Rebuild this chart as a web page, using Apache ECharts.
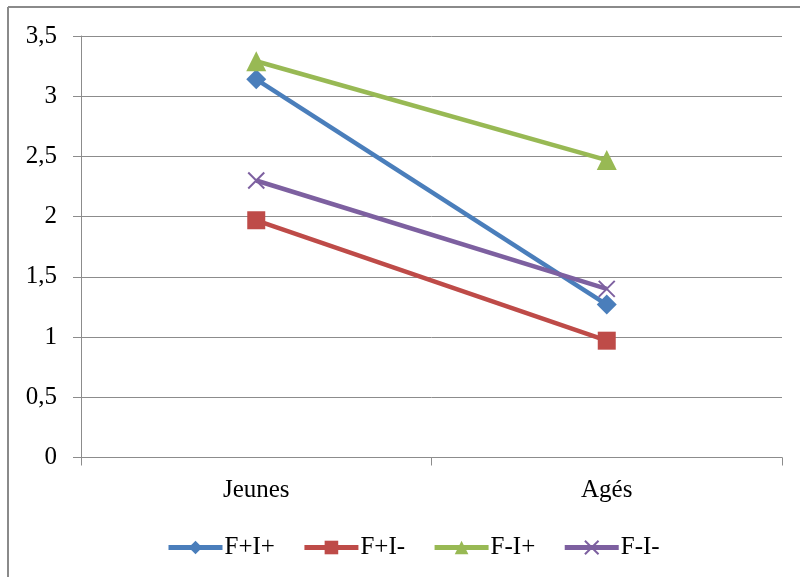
<!DOCTYPE html>
<html><head><meta charset="utf-8">
<script src="https://cdn.jsdelivr.net/npm/echarts@6/dist/echarts.min.js"></script>
<style>html,body{margin:0;padding:0;background:#fff}#c{width:800px;height:577px}</style>
</head><body><div id="c"></div>
<script>
const categories = ['Jeunes', 'Agés'];
const seriesNames = ['F+I+', 'F+I-', 'F-I+', 'F-I-'];
const valsFpIp = [3.14, 1.27];
const valsFpIm = [1.97, 0.97];
const valsFmIp = [3.29, 2.47];
const valsFmIm = [2.30, 1.40];
const yTicks = [0, 0.5, 1, 1.5, 2, 2.5, 3, 3.5];

const colors = ['#4a7ebb', '#be4b48', '#98b954', '#7d60a0'];
const symbols = ['diamond', 'rect', 'triangle', 'path://M0,0L10,10M10,0L0,10'];
const sizes = [20, 18, 20, 16];
const dataSets = [valsFpIp, valsFpIm, valsFmIp, valsFmIm];
const font = '"Liberation Serif", "Times New Roman", serif';

const chart = echarts.init(document.getElementById('c'));
chart.setOption({
  animation: false,
  backgroundColor: '#fff',
  graphic: [
    {type: 'line', shape: {x1: 8, y1: 7, x2: 800, y2: 7}, style: {stroke: '#8a8a8a', lineWidth: 2}},
    {type: 'line', shape: {x1: 8, y1: 7, x2: 8, y2: 577}, style: {stroke: '#8a8a8a', lineWidth: 2}}
  ],
  grid: {left: 81, right: 18, top: 36, bottom: 119.5, containLabel: false},
  legend: {
    top: 530, left: 161,
    itemWidth: 54, itemHeight: 17, itemGap: 27,
    data: seriesNames,
    lineStyle: {width: 5},
    textStyle: {fontFamily: font, fontSize: 25, color: '#000', padding: [0,0,0,-3]}
  },
  xAxis: {
    type: 'category', data: categories, boundaryGap: true,
    axisLine: {lineStyle: {color: '#8c8c8c', width: 1}},
    axisTick: {show: true, length: 8, interval: 0, lineStyle: {color: '#8c8c8c'}},
    axisLabel: {fontFamily: font, fontSize: 25, color: '#000', margin: 20}
  },
  yAxis: {
    type: 'value', min: 0, max: 3.5, interval: 0.5,
    axisLine: {show: true, lineStyle: {color: '#8c8c8c'}},
    axisTick: {show: true, length: 8, lineStyle: {color: '#8c8c8c'}},
    splitLine: {lineStyle: {color: '#8c8c8c', width: 1}},
    axisLabel: {fontFamily: font, fontSize: 25, color: '#000', margin: 24,
      formatter: v => String(v).replace('.', ',')}
  },
  series: seriesNames.map((n, i) => ({
    name: n, type: 'line', data: dataSets[i],
    symbol: symbols[i], symbolSize: sizes[i],
    lineStyle: {color: colors[i], width: 4.5},
    itemStyle: i === 3 ? {color: colors[i], borderColor: colors[i], borderWidth: 2} : {color: colors[i]}
  }))
});
</script></body></html>
